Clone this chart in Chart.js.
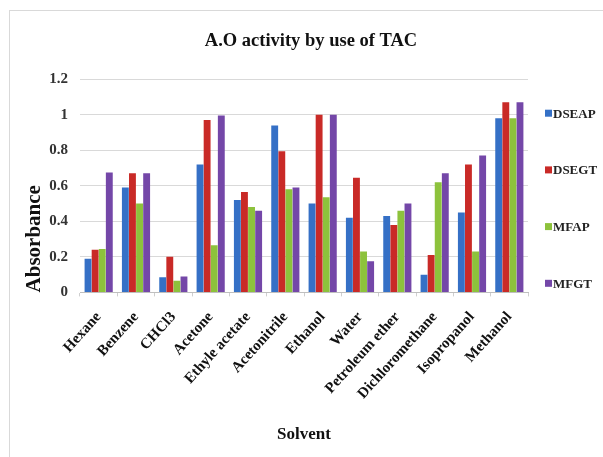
<!DOCTYPE html>
<html>
<head>
<meta charset="utf-8">
<script src="https://cdn.jsdelivr.net/npm/chart.js@4/dist/chart.umd.min.js"></script>
<style>
    html, body { margin: 0; padding: 0; background: #fff; overflow: hidden; }
    #frame { position: absolute; left: 9px; top: 10px; width: 700px; height: 600px; border: 1px solid #d9d9d9; }
    #wrap { position: absolute; left: 0; top: 0; width: 603px; height: 457px; }
</style>
</head>
<body>
<div id="frame"></div>
<div id="wrap"><canvas id="chart"></canvas></div>
<script>
// A.O activity by use of TAC - absorbance per solvent

const solvents = ['Hexane', 'Benzene', 'CHCl3', 'Acetone', 'Ethyle acetate', 'Acetonitrile',
    'Ethanol', 'Water', 'Petroleum ether', 'Dichloromethane', 'Isopropanol', 'Methanol'];

const dseap = [0.19, 0.59, 0.085, 0.72, 0.52, 0.94, 0.50, 0.42, 0.43, 0.10, 0.45, 0.98];
const dsegt = [0.24, 0.67, 0.20, 0.97, 0.565, 0.795, 1.0, 0.645, 0.38, 0.21, 0.72, 1.07];
const mfap  = [0.245, 0.50, 0.065, 0.265, 0.48, 0.58, 0.535, 0.23, 0.46, 0.62, 0.23, 0.98];
const mfgt  = [0.675, 0.67, 0.09, 0.995, 0.46, 0.59, 1.0, 0.175, 0.50, 0.67, 0.77, 1.07];

const yTicks = [0, 0.2, 0.4, 0.6, 0.8, 1, 1.2];

const serif = 'Liberation Serif, Times New Roman, serif';

function barSet(label, data, color) {
    return {
        label: label,
        data: data,
        backgroundColor: color,
        borderWidth: 0,
        categoryPercentage: 0.76,
        barPercentage: 0.97
    };
}

// Legend drawn at the right, spread out like the original
const sideLegend = {
    id: 'sideLegend',
    afterDraw(chart) {
        const c = chart.ctx;
        const area = chart.chartArea;
        c.save();
        c.font = 'bold 13px ' + serif;
        c.textBaseline = 'middle';
        c.textAlign = 'left';
        chart.data.datasets.forEach((ds, i) => {
            const y = area.top + 34 + i * 56.7;
            const x = area.right + 17;
            c.fillStyle = ds.backgroundColor;
            c.fillRect(x, y - 3.5, 7, 7);
            c.fillStyle = '#222';
            c.fillText(ds.label, x + 8, y + 1);
        });
        c.restore();
    }
};

const ctx = document.getElementById('chart').getContext('2d');

new Chart(ctx, {
    type: 'bar',
    data: {
        labels: solvents,
        datasets: [
            barSet('DSEAP', dseap, '#3570c6'),
            barSet('DSEGT', dsegt, '#c92a27'),
            barSet('MFAP', mfap, '#8dc23c'),
            barSet('MFGT', mfgt, '#7447a8')
        ]
    },
    plugins: [sideLegend],
    options: {
        responsive: true,
        maintainAspectRatio: false,
        animation: false,
        layout: {
            padding: { left: 22, right: 3, top: 30, bottom: 12 }
        },
        plugins: {
            title: {
                display: true,
                text: 'A.O activity by use of TAC',
                color: '#111',
                font: { family: serif, size: 18.5, weight: 'bold' },
                padding: { top: 0, bottom: 27 }
            },
            legend: { display: false },
            tooltip: { enabled: false }
        },
        scales: {
            x: {
                grid: { display: true, drawOnChartArea: false, drawTicks: true, tickLength: 4, color: '#cfcfcf' },
                border: { color: '#bfbfbf' },
                ticks: {
                    color: '#111',
                    font: { family: serif, size: 15, weight: 'bold' },
                    maxRotation: 48,
                    minRotation: 48,
                    autoSkip: false,
                    padding: 12
                },
                title: {
                    display: true,
                    text: 'Solvent',
                    color: '#111',
                    font: { family: serif, size: 17, weight: 'bold' },
                    padding: { top: 10, bottom: 0 }
                }
            },
            y: {
                min: 0,
                max: 1.2,
                afterBuildTicks: (axis) => {
                    axis.ticks = yTicks.map(v => ({ value: v }));
                },
                afterFit: (axis) => {
                    axis.width = 58;
                },
                grid: { color: '#d9d9d9', drawTicks: false },
                border: { display: false },
                ticks: {
                    color: '#333',
                    font: { family: serif, size: 15, weight: 'bold' },
                    padding: 12,
                    callback: (v) => String(+v.toFixed(1))
                },
                title: {
                    display: true,
                    text: 'Absorbance',
                    align: 'start',
                    color: '#111',
                    font: { family: serif, size: 21, weight: 'bold' },
                    padding: { top: 0, bottom: 0 }
                }
            },
            // empty axis on the right that keeps room for the legend
            side: {
                type: 'linear',
                position: 'right',
                display: true,
                grid: { display: false },
                border: { display: false },
                ticks: { display: false },
                afterFit: (axis) => {
                    axis.width = 72;
                }
            }
        }
    }
});
</script>
</body>
</html>
